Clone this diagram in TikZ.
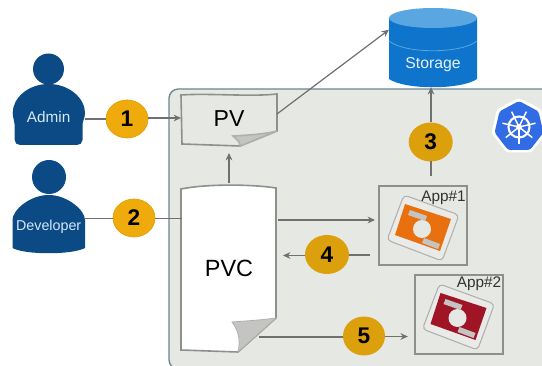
\documentclass[tikz,border=0pt]{standalone}
\usepackage{fontspec}
\setmainfont{Liberation Sans}
\usetikzlibrary{arrows.meta}
\definecolor{navy}{HTML}{0B4A85}
\definecolor{goldA}{HTML}{EFAB0B}
\definecolor{goldB}{HTML}{DDA00D}
\definecolor{panelc}{HTML}{E6E8E4}
\definecolor{panelb}{HTML}{6F8494}
\definecolor{cylb}{HTML}{0F74CC}
\definecolor{cylt}{HTML}{5AA6E0}
\definecolor{kube}{HTML}{326CE5}
\definecolor{linec}{HTML}{707070}
\definecolor{edgec}{HTML}{8E908C}
\definecolor{foldc}{HTML}{C4C5C3}
\definecolor{apporange}{HTML}{E8700F}
\definecolor{appred}{HTML}{A01525}
\tikzset{
  conn/.style={draw=linec,line width=.9pt},
  arr/.style={conn,-{Stealth[length=5.5pt,width=5pt]}},
  badge/.style={inner sep=0pt,font=\fontsize{17}{17}\selectfont\bfseries,text=black},
  anchorbox/.style={inner sep=0pt,outer sep=0pt,minimum width=#1},
  person/.style={font=\fontsize{11.5}{12}\selectfont,text=white!75!cylt},
  sheet/.style={draw=edgec,line width=1.2pt},
  appframe/.style={draw=edgec,line width=1.5pt,fill=panelc,inner sep=0pt,outer sep=0pt,minimum width=66pt,minimum height=59pt},
  applabel/.style={font=\fontsize{11.5}{12}\selectfont,text=black!80,inner sep=0pt},
}
\newcommand{\appicon}[1]{%
  \draw[draw=edgec!70,fill=panelc!85!white,line width=.8pt,rounded corners=3pt]
    (404,195) -- (459,215) -- (442,261) -- (387,240) -- cycle;
  \fill[#1] (405,204) -- (451,219) -- (440,251) -- (395,235) -- cycle;
  \fill[panelc] (422,229) circle[radius=9];
  \fill[foldc] (410,210) -- (427,216) -- (425,221) -- (408,215) -- cycle;
  \fill[foldc] (424,238) -- (440,244) -- (438,249) -- (422,243) -- cycle;
}
\begin{document}
\begin{tikzpicture}[x=.75pt,y=-.75pt]
\useasboundingbox (0,0) rectangle (542,366);
\clip (0,0) rectangle (542,366);
\fill[white] (0,0) rectangle (542,366);
% panel
\draw[draw=panelb,fill=panelc,line width=1pt,rounded corners=7pt] (169,89) rectangle (570,369);
% storage
\fill[cylb] (389,18) -- (389,79) .. controls (405,90) and (461,90) .. (477,79) -- (477,18) -- cycle;
\fill[cylt] (433,18) ellipse[x radius=44,y radius=10];
\draw[cylt,line width=.6pt] (389,41) .. controls (405,54) and (461,54) .. (477,41);
\node[anchorbox=66pt,minimum height=59.5pt] (storage) at (433,47.5) {};
\node[font=\fontsize{11.8}{12}\selectfont,text=white!85!cylt,inner sep=0pt] (storagetext) at (433,65) {Storage};
% kubernetes logo
\fill[white,rounded corners=2pt] (519,98) -- (541,109) -- (546.5,133) -- (531.5,152.5) -- (506.5,152.5) -- (491.5,133) -- (497,109) -- cycle;
\fill[kube,rounded corners=2pt] (519,101) -- (538.5,111.4) -- (543.4,132.6) -- (530,150) -- (508,150) -- (494.6,132.6) -- (499.5,111.4) -- cycle;
\draw[white,line width=1.6pt] (519,127) circle[radius=10.5];
\foreach \a in {90,141.4,192.9,244.3,295.7,347.1,38.6}{
  \draw[white,line width=1.1pt] (519,127) -- ++({\a}:17);
}
\fill[white] (519,127) circle[radius=3];
% persons
\fill[navy] (48.5,69) circle[radius=15.5];
\fill[navy] (48.7,84) .. controls (28,84) and (12.7,98) .. (12.7,113) .. controls (12.7,118) and (14.7,121) .. (14.7,125) -- (14.7,140) .. controls (14.7,143) and (17,145) .. (20,145) -- (77,145) .. controls (80,145) and (82.5,143) .. (82.5,140) -- (82.5,125) .. controls (82.5,121) and (85,118) .. (85,113) .. controls (85,98) and (69,84) .. (48.7,84) -- cycle;
\node[person,anchorbox=54pt] (admin) at (48.7,117) {Admin};
\fill[navy] (49,177) circle[radius=17];
\fill[navy] (48.7,195) .. controls (30,195) and (12.5,210) .. (12.5,220) -- (12.5,248) .. controls (25,255) and (72,255) .. (85,248) -- (85,220) .. controls (85,210) and (67,195) .. (48.7,195) -- cycle;
\node[person,anchorbox=54.5pt,font=\fontsize{10.7}{12}\selectfont] (developer) at (48.7,226.5) {Developer};
% PV sheet
\draw[sheet,fill=panelc] (181,95) .. controls (210,93) and (250,97) .. (277,94) -- (277,131) -- (240,146) -- (182,144) -- cycle;
\draw[sheet,draw=edgec!70,fill=foldc] (233,136) .. controls (250,135) and (265,134) .. (277,131) -- (240,146) .. controls (240,141) and (236,139) .. (233,136) -- cycle;
\node[anchorbox=72pt,minimum height=39pt,font=\fontsize{17.3}{18}\selectfont] (pv) at (229,119) {PV};
% PVC sheet
\draw[sheet,fill=white] (181,189) .. controls (205,184) and (250,184) .. (276,188) -- (276,318) -- (238,352) -- (181,350) -- cycle;
\draw[draw=edgec!70,line width=.6pt,fill=foldc] (232,322) .. controls (245,321) and (262,320) .. (276,318) -- (238,352) .. controls (241,340) and (238,330) .. (232,322) -- cycle;
\node[anchorbox=71pt,minimum height=126pt,font=\fontsize{17.6}{18}\selectfont] (pvc) at (229,268) {PVC};
% apps
\node[appframe] (appa) at (423,225.5) {};
\appicon{apporange}
\node[applabel] (appatext) at (443.5,198) {App\#1};
\node[appframe] (appb) at (458.5,314.5) {};
\begin{scope}[shift={(35.5,89)}]
\appicon{appred}
\end{scope}
\node[applabel] (appbtext) at (479,284) {App\#2};
% badges
\fill[goldA,draw=goldB,line width=.5pt] (127,119) ellipse[x radius=21,y radius=19];
\node[badge] (n1) at (127,119) {1};
\fill[goldA,draw=goldB,line width=.5pt] (134,218) ellipse[x radius=21,y radius=19];
\node[badge] (n2) at (134,218) {2};
\fill[goldB] (430.7,142) ellipse[x radius=22,y radius=19.5];
\node[badge] (n3) at (430.7,142) {3};
\fill[goldB] (327,254.5) ellipse[x radius=22,y radius=19.5];
\node[badge] (n4) at (327,254.5) {4};
\fill[goldB] (364,336) ellipse[x radius=21,y radius=19.5];
\node[badge] (n5) at (364,336) {5};
% connectors
\coordinate (e1) at (106,119);
\coordinate (e1b) at (148,118);
\draw[conn] (admin.east |- e1) -- (e1);
\draw[arr] (e1b) -- (181,118);
\coordinate (e2) at (113,218.5);
\coordinate (e2b) at (155,218.5);
\draw[conn] (85,218.5) -- (e2);
\draw[conn] (e2b) -- (pvc.west |- e2b);
\draw[arr] (229,183) -- (229,153);
\draw[arr] (pv.6) -- (storage.158);
\coordinate (t3) at (431,122.5);
\coordinate (u3) at (431,161.5);
\coordinate (s3) at (431,176);
\draw[arr] (t3) -- (t3 |- storage.south);
\draw[conn] (u3) -- (s3);
\coordinate (a1) at (278,220);
\draw[arr,shorten >=3pt] (a1) -- (a1 -| appa.west);
\coordinate (f4) at (370,255);
\coordinate (r4) at (349,255);
\coordinate (l4) at (305,255.5);
\coordinate (t4) at (283,255.5);
\draw[conn] (f4) -- (r4);
\draw[arr] (l4) -- (t4);
\coordinate (c5) at (259,337);
\coordinate (d5) at (343,337);
\coordinate (g5) at (385,336.5);
\draw[conn] (c5) -- (d5);
\draw[arr,shorten >=5pt] (g5) -- (g5 -| appb.west);
\end{tikzpicture}
\end{document}
